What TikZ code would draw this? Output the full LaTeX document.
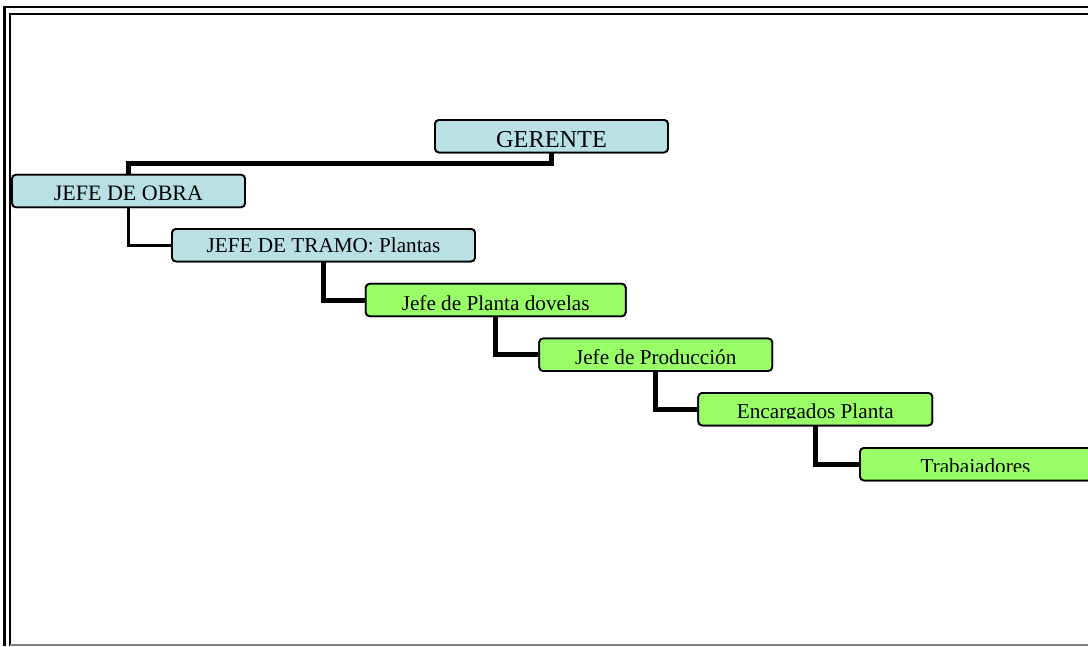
\documentclass[tikz,border=0pt]{standalone}
\usepackage{fontspec}
\setmainfont{Liberation Serif}
\definecolor{boxblue}{HTML}{B9E1E4}
\definecolor{boxgreen}{HTML}{99FF66}
\tikzset{
  bbox/.style={draw=black, line width=1.8pt, rounded corners=4pt, inner sep=0pt, minimum height=32.5pt},
  bluebox/.style={bbox, fill=boxblue},
  greenbox/.style={bbox, fill=boxgreen},
  lbl/.style={inner sep=0pt, anchor=base, font=\fontsize{21.2}{24}\selectfont},
  thickconn/.style={draw=black, line width=5pt},
  thinconn/.style={draw=black, line width=3pt},
  frameline/.style={draw=black, line width=2.3pt}
}
\begin{document}
\begin{tikzpicture}[x=1pt, y=-1pt]
\clip (0,0) rectangle (1088,646);
% frame
\draw[frameline] (4.5,646) -- (4.5,7.3) -- (1088,7.3);
\draw[frameline, line width=2pt] (10.2,646) -- (10.2,13.6) -- (1088,13.6);
\draw[gray, line width=1.5pt] (10.2,645.2) -- (1088,645.2);
% boxes
\node[bluebox, minimum width=233pt] (ger) at (551.5,136.2) {};
\node[bluebox, minimum width=233pt] (obra) at (128.5,191) {};
\node[bluebox, minimum width=303pt] (tramo) at (323.5,245.2) {};
\node[greenbox, minimum width=260pt] (dov) at (495.7,300) {};
\node[greenbox, minimum width=233pt] (prod) at (655.7,354.7) {};
\node[greenbox, minimum width=234pt] (enc) at (815.3,409.2) {};
\node[greenbox, minimum width=233pt] (trab) at (976.5,464.2) {};
% connectors
\draw[thickconn] (ger.south) -- ++(0,10) -| (obra.north);
\draw[thinconn] (obra.south) |- (tramo.west);
\draw[thickconn] (tramo.south) |- (dov.west);
\draw[thickconn] (dov.south) |- (prod.west);
\draw[thickconn] (prod.south) |- (enc.west);
\draw[thickconn] (enc.south) |- (trab.west);
% redraw boxes on top of connector ends
\node[bluebox, minimum width=233pt] at (ger) {};
\node[bluebox, minimum width=233pt] at (obra) {};
\node[bluebox, minimum width=303pt] at (tramo) {};
\node[greenbox, minimum width=260pt] at (dov) {};
\node[greenbox, minimum width=233pt] at (prod) {};
\node[greenbox, minimum width=234pt] at (enc) {};
\node[greenbox, minimum width=233pt] at (trab) {};
% labels
\node[lbl, font=\fontsize{24.3}{28}\selectfont] (ger-t) at (551.5,147.3) {GERENTE};
\node[lbl, font=\fontsize{22}{26}\selectfont] (obra-t) at (128.5,200.7) {JEFE DE OBRA};
\node[lbl] (tramo-t) at (323.5,252.7) {JEFE DE TRAMO: Plantas};
\node[lbl] (dov-t) at (495.7,310) {Jefe de Planta dovelas};
\node[lbl] (prod-t) at (655.7,364) {Jefe de Producción};
\begin{scope}
\clip (699,393) rectangle (932,418.8);
\node[lbl] (enc-t) at (815.3,418.5) {Encargados Planta};
\end{scope}
\begin{scope}
\clip (860,448) rectangle (1088,471.8);
\node[lbl] (trab-t) at (975.5,473.6) {Trabajadores};
\end{scope}
\end{tikzpicture}
\end{document}
